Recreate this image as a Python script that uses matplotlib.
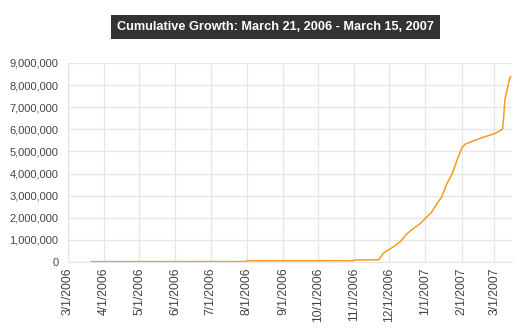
import datetime as dt
import matplotlib
matplotlib.use("Agg")
import matplotlib.pyplot as plt
from matplotlib.ticker import FuncFormatter

plt.rcParams['font.family'] = ['Liberation Sans', 'DejaVu Sans']

# cumulative growth readings (date, total)
dates = ["2006-03-21", "2006-05-01", "2006-07-31", "2006-08-01", "2006-10-31",
         "2006-11-01", "2006-11-22", "2006-11-26", "2006-12-01", "2006-12-05",
         "2006-12-11", "2006-12-16", "2006-12-22", "2006-12-28", "2007-01-01",
         "2007-01-06", "2007-01-11", "2007-01-15", "2007-01-19", "2007-01-24",
         "2007-01-28", "2007-02-01", "2007-02-04", "2007-02-12", "2007-02-20",
         "2007-03-01", "2007-03-08", "2007-03-09", "2007-03-10", "2007-03-12",
         "2007-03-14", "2007-03-15"]
values = [15000, 18000, 20000, 55000, 60000,
          90000, 100000, 400000, 570000, 700000,
          950000, 1270000, 1530000, 1760000, 1980000,
          2230000, 2650000, 2950000, 3500000, 4000000,
          4600000, 5150000, 5330000, 5500000, 5650000,
          5800000, 6000000, 6600000, 7350000, 7800000,
          8300000, 8380000]
tick_labels = ["3/1/2006", "4/1/2006", "5/1/2006", "6/1/2006", "7/1/2006",
               "8/1/2006", "9/1/2006", "10/1/2006", "11/1/2006", "12/1/2006",
               "1/1/2007", "2/1/2007", "3/1/2007"]

x = [dt.datetime.strptime(d, "%Y-%m-%d") for d in dates]
ticks = [dt.datetime.strptime(t, "%m/%d/%Y") for t in tick_labels]

fig = plt.figure(figsize=(5.15, 3.31), dpi=100)
ax = fig.add_axes([0.132, 0.2085, 0.862, 0.6012])

ax.plot(x, values, color="#f59a23", lw=1.1, solid_joinstyle="round")

ax.set_xlim(ticks[0], dt.datetime(2007, 3, 16))
ax.set_ylim(0, 9000000)
ax.set_yticks(range(0, 9000001, 1000000))
ax.yaxis.set_major_formatter(FuncFormatter(lambda v, p: f"{int(v):,}"))
ax.set_xticks(ticks)
ax.set_xticklabels(tick_labels, rotation=90)

ax.grid(True, color="#e6e6e6", lw=0.9)
ax.set_axisbelow(True)
for s in ["top", "right"]:
    ax.spines[s].set_visible(False)
for s in ["left", "bottom"]:
    ax.spines[s].set_color("#e6e6e6")
ax.tick_params(length=0, labelsize=8, colors="#444444")
ax.tick_params(axis="x", labelsize=8.8, pad=4)
ax.tick_params(axis="y", pad=7)

fig.text(0.535, 0.918, "Cumulative Growth: March 21, 2006 - March 15, 2007",
         ha="center", va="center", color="white", fontsize=9.2, fontweight="bold",
         bbox=dict(boxstyle="square,pad=0.45", fc="#333333", ec="none"))

fig.savefig("out.png", dpi=100)
